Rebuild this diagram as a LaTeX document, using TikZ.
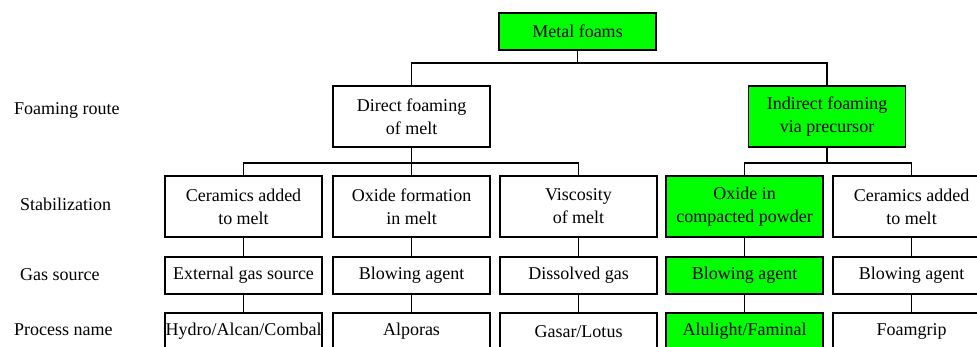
\documentclass[tikz,border=0pt]{standalone}
\usepackage{fontspec}
\setmainfont{Liberation Serif}
\newfontfamily\romfont{Liberation Serif}
\definecolor{vert}{RGB}{0,255,0}
\begin{document}
\begin{tikzpicture}[x=1pt,y=-1pt,line width=1.7pt,
    boite/.style={draw,fill=white,minimum width=157pt,inner sep=0pt,align=center,font=\romfont\fontsize{18}{23}\selectfont},
    haute/.style={boite,minimum height=61pt},
    basse/.style={boite,minimum height=37pt},
    choix/.style={fill=vert},
    etiq/.style={anchor=west,font=\romfont\fontsize{18}{22}\selectfont}]
    \useasboundingbox (0,0) rectangle (977,347);
    \clip (0,0) rectangle (977,347);
    % Racine
    \node[basse,choix] (metal) at (577.5,31.5) {Metal foams};
    % Voies de moussage
    \node[haute] (direct) at (411.5,116.5) {Direct foaming\\of melt};
    \node[haute,choix] (indirect) at (827,116.5) {Indirect foaming\\via precursor};
    % Stabilisation
    \node[haute] (ceramA) at (243.5,206.5) {Ceramics added\\to melt};
    \node[haute] (oxfor) at (411.5,206.5) {Oxide formation\\in melt};
    \node[haute] (visco) at (578.5,206.5) {Viscosity\\of melt};
    \node[haute,choix] (oxcomp) at (744.5,206.5) {Oxide in\\compacted powder};
    \node[haute] (ceramB) at (911.5,206.5) {Ceramics added\\to melt};
    % Source de gaz
    \node[basse] (gasA) at (243.5,275.5) {External gas source};
    \node[basse] (gasB) at (411.5,275.5) {Blowing agent};
    \node[basse] (gasC) at (578.5,275.5) {Dissolved gas};
    \node[basse,choix] (gasD) at (744.5,275.5) {Blowing agent};
    \node[basse] (gasE) at (911.5,275.5) {Blowing agent};
    % Procedes
    \node[basse] (procA) at (243.5,331.5) {Hydro/Alcan/Combal};
    \node[basse] (procB) at (411.5,331.5) {Alporas};
    \node[basse] (procC) at (578.5,331.5) {Gasar/Lotus};
    \node[basse,choix] (procD) at (744.5,331.5) {Alulight/Faminal};
    \node[basse] (procE) at (911.5,331.5) {Foamgrip};
    % Liaisons
    \coordinate (barre1) at (577.5,63);
    \coordinate (barre2) at (411.5,163);
    \coordinate (barre3) at (827,163);
    \draw (metal.south) -- (barre1);
    \draw (direct.north) |- (barre1) -| (indirect.north);
    \draw (direct.south) -- (barre2);
    \draw (ceramA.north) |- (barre2) -| (visco.north);
    \draw (oxfor.north) -- (barre2);
    \draw (indirect.south) -- (barre3);
    \draw (oxcomp.north) |- (barre3) -| (ceramB.north);
    \draw (ceramA.south) -- (gasA.north) (gasA.south) -- (procA.north);
    \draw (oxfor.south) -- (gasB.north) (gasB.south) -- (procB.north);
    \draw (visco.south) -- (gasC.north) (gasC.south) -- (procC.north);
    \draw (oxcomp.south) -- (gasD.north) (gasD.south) -- (procD.north);
    \draw (ceramB.south) -- (gasE.north) (gasE.south) -- (procE.north);
    % Etiquettes
    \node[etiq] (route) at (10,110) {Foaming route};
    \node[etiq] (stab) at (16,204) {Stabilization};
    \node[etiq] (gas) at (16,275) {Gas source};
    \node[etiq] (proc) at (10,330) {Process name};
\end{tikzpicture}
\end{document}
